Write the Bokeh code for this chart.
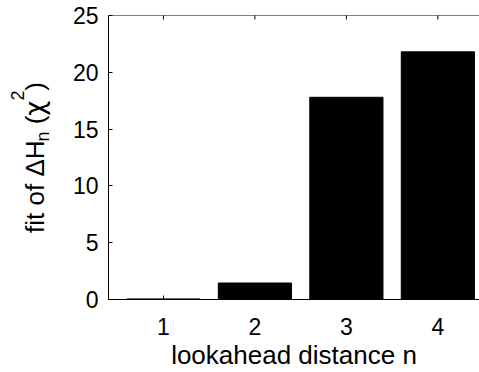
import math
from bokeh.plotting import figure
from bokeh.layouts import row
from bokeh.models import Range1d, FixedTicker, ColumnDataSource, Span
from bokeh.core.properties import value
from bokeh.embed import file_html
from bokeh.resources import INLINE

# ---- data ----
distances = [1, 2, 3, 4]
chi2_fit = [0.05, 1.45, 17.8, 21.8]
y_ticks = [0, 5, 10, 15, 20, 25]
x_label = "lookahead distance n"
y_label_pieces = ["fit of ΔH", "n", "(", "χ", "2", ")"]

FONT = "Liberation Sans"
GREEK_FONT = "DejaVu Sans"
TICK_SIZE = 23
LABEL_SIZE = 26
SUB_SIZE = 18

W, H = 479, 372
LAB_W = 60          # width of the strip holding the y label
FRAME_LEFT = 108    # page x of the plot frame
FRAME_TOP = 15
FRAME_BOTTOM_BORDER = 70
FRAME_BOTTOM = H - FRAME_BOTTOM_BORDER

X_START, X_END = 0.4, 4.455
p = figure(width=W - LAB_W, height=H, output_backend="svg", toolbar_location=None,
           x_range=Range1d(X_START, X_END), y_range=Range1d(y_ticks[0], y_ticks[-1]),
           min_border_left=FRAME_LEFT - LAB_W, min_border_right=0,
           min_border_top=FRAME_TOP, min_border_bottom=FRAME_BOTTOM_BORDER)
p.outline_line_color = None
p.xgrid.visible = False
p.ygrid.visible = False
p.background_fill_color = "white"
p.border_fill_color = "white"

src = ColumnDataSource(dict(x=distances, top=chi2_fit))
p.vbar(x="x", top="top", width=0.8, source=src, fill_color="black",
       line_color="black", line_width=1)

def style_axis(ax, ticks):
    ax.ticker = FixedTicker(ticks=ticks)
    ax.major_tick_in = 4
    ax.major_tick_out = 0
    ax.minor_tick_line_color = None
    ax.axis_line_color = "black"
    ax.axis_line_width = 1
    ax.major_tick_line_color = "black"
    ax.major_label_text_color = "black"
    ax.major_label_text_font = FONT
    ax.major_label_text_font_size = f"{TICK_SIZE}px"
    ax.axis_label_text_font = FONT
    ax.axis_label_text_font_style = "normal"
    ax.axis_label_text_color = "black"
    ax.axis_label_text_font_size = f"{LABEL_SIZE}px"

style_axis(p.xaxis[0], distances)
p.xaxis[0].major_label_standoff = 18
p.xaxis[0].axis_label = x_label
p.xaxis[0].axis_label_standoff = 2

style_axis(p.yaxis[0], y_ticks)
p.yaxis[0].major_label_standoff = 10

# top box edge with inward ticks
p.add_layout(Span(location=y_ticks[-1], dimension="width", line_color="black", line_width=1))
p.scatter(x=distances, y=[y_ticks[-1]] * len(distances), marker="dash", angle=math.pi / 2,
          size=8, line_color="black", line_width=1)

# ---- y-axis label strip; its frame is aligned with the main frame,
#      so its y range is expressed in page pixels (downward) ----
lab = figure(width=LAB_W, height=H, output_backend="svg", toolbar_location=None,
             x_range=Range1d(0, LAB_W), y_range=Range1d(FRAME_BOTTOM, FRAME_TOP),
             min_border=0)
lab.axis.visible = False
lab.xgrid.visible = False
lab.ygrid.visible = False
lab.outline_line_color = None
lab.background_fill_color = "white"
lab.border_fill_color = "white"

widths = {"f": 278, "i": 222, "t": 278, " ": 278, "o": 556, "Δ": 668, "H": 722,
          "n": 556, "(": 333, "χ": 592, "2": 556, ")": 333}

def text_w(s, size):
    return sum(widths[c] for c in s) * size / 1000.0

sizes = [LABEL_SIZE, SUB_SIZE, LABEL_SIZE, LABEL_SIZE, SUB_SIZE, LABEL_SIZE]
shifts = [0, 8, 0, 0, -17, 0]
fonts = [FONT, FONT, FONT, GREEK_FONT, FONT, FONT]
gaps_after = [0, widths[" "] * LABEL_SIZE / 1000.0, 0, 0, 0, 0]
base_x = 34
center = (FRAME_TOP + FRAME_BOTTOM) / 2
total = sum(text_w(s, sz) for s, sz in zip(y_label_pieces, sizes)) + sum(gaps_after)
pos = center + total / 2
for s, sz, sh, fnt, gap in zip(y_label_pieces, sizes, shifts, fonts, gaps_after):
    lab.text(x=[base_x + sh], y=[pos], text=[s], angle=math.pi / 2,
             text_font=value(fnt), text_font_size=f"{sz}px", text_color="black",
             text_align="left", text_baseline="alphabetic")
    pos -= text_w(s, sz) + gap

layout = row(lab, p, spacing=0)
open("out.html", "w").write(file_html(layout, INLINE))
